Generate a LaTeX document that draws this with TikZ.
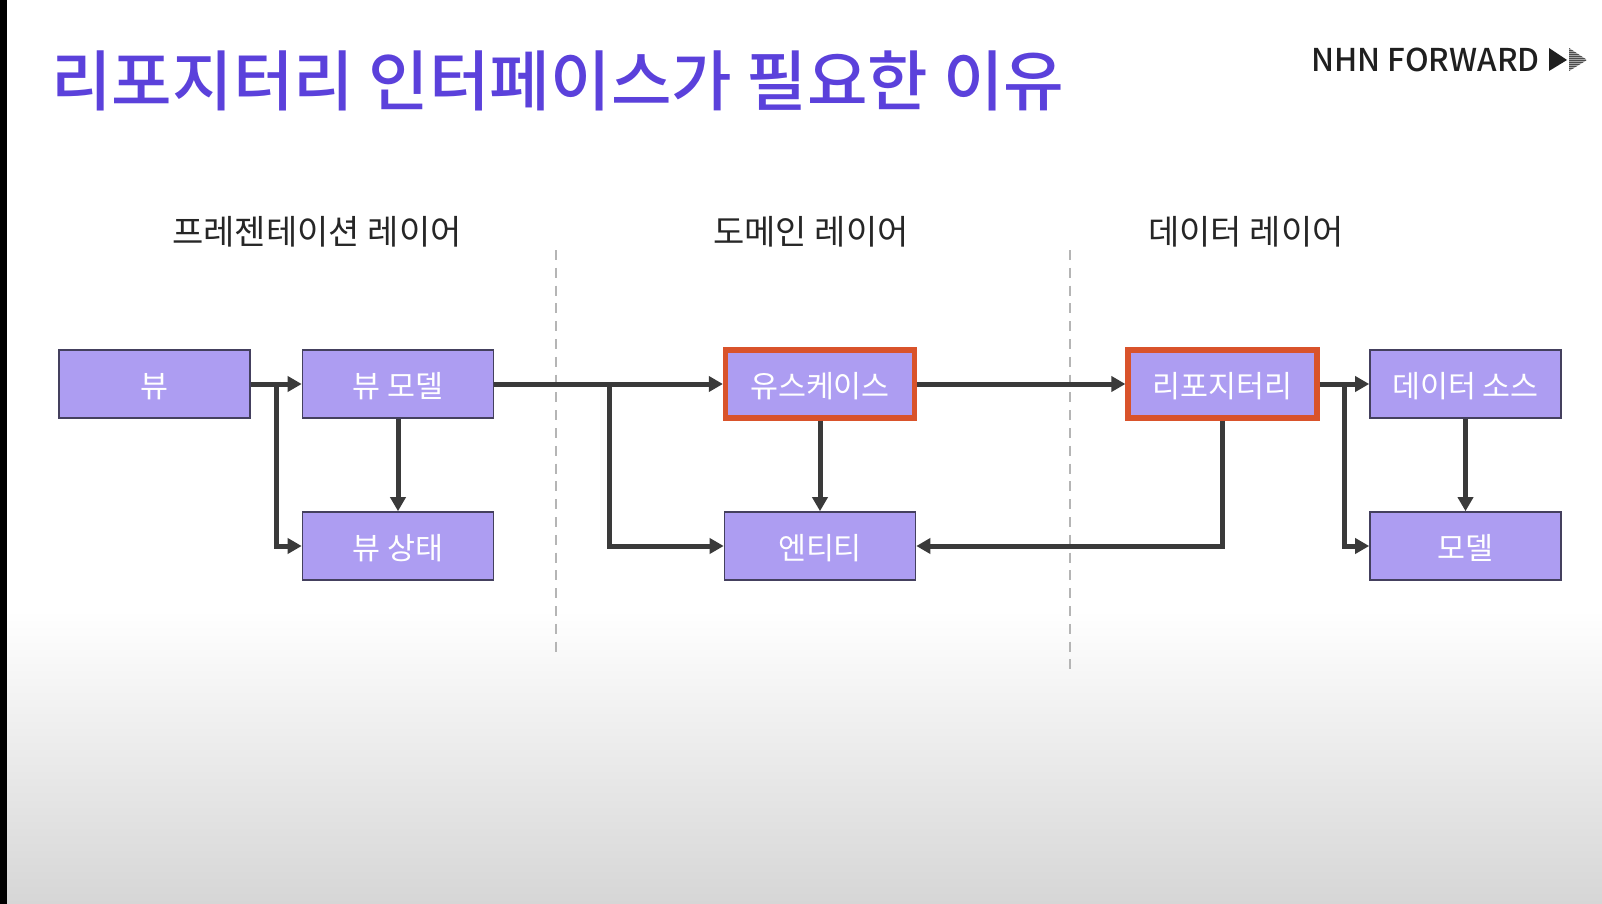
\documentclass[tikz,border=0pt]{standalone}
\usepackage{fontspec}
\usetikzlibrary{arrows.meta,positioning,calc}
\newfontfamily\krfont{Noto Sans CJK KR}
\newfontfamily\krmed{Noto Sans CJK KR Medium}
\definecolor{boxfill}{HTML}{AD9DF2}
\definecolor{boxline}{HTML}{44405E}
\definecolor{titlecol}{HTML}{5B41DB}
\definecolor{hilite}{HTML}{D9532B}
\definecolor{conn}{HTML}{3A3A3A}
\definecolor{dashcol}{HTML}{B5B5B5}
\definecolor{fade}{HTML}{D6D6D6}
\tikzset{
  x=0.5pt,y=-0.5pt,
  pbox/.style={draw=boxline,line width=0.8pt,fill=boxfill,text=white,minimum width=95.5pt,minimum height=34pt,inner sep=0pt,text height=15pt,text depth=1.6pt,font=\krfont\fontsize{15.2}{15.2}\selectfont},
  hbox/.style={pbox,draw=hilite,line width=2.6pt,minimum width=94.5pt,minimum height=34pt},
  conline/.style={draw=conn,line width=2.5pt},
  conarrow/.style={conline,-{Triangle[length=7pt,width=7.5pt,sharp]}},
  sep/.style={draw=dashcol,line width=1.1pt,dash pattern=on 5pt off 3.9pt},
  head/.style={font=\krfont\fontsize{17}{17}\selectfont,text=black!85,inner sep=0pt},
}
\begin{document}
\begin{tikzpicture}
\useasboundingbox (0,0) rectangle (1602,904);
\fill[white] (0,0) rectangle (1602,904);
\shade[top color=white,bottom color=fade,shading angle=0] (0,610) rectangle (1602,904);
\fill[black] (0,0) rectangle (7,904);

\node[anchor=west,inner sep=0pt,text=titlecol,font=\krmed\fontsize{32.9}{32.9}\selectfont] (title) at (51,81) {리포지터리 인터페이스가 필요한 이유};
\node[anchor=west,inner sep=0pt,text=black!88,font=\krmed\fontsize{15.7}{15.7}\selectfont] (brand) at (1311,60) {NHN FORWARD};
\fill[black!88] (1549,48) -- (1567,60) -- (1549,71) -- cycle;
\begin{scope}
\clip (1569,48) -- (1587,60) -- (1569,71) -- cycle;
\fill[black!35] (1569,48) rectangle (1587,71);
\foreach \yy in {48,50,...,72} \draw[black!70,line width=0.45pt] (1569,\yy) -- (1587,\yy);
\end{scope}

\node[head] (h1) at (317,232) {프레젠테이션 레이어};
\node[head] (h2) at (811,232) {도메인 레이어};
\node[head] (h3) at (1246,232) {데이터 레이어};

\coordinate (d1a) at (556,250); \coordinate (d1b) at (556,651.6);
\coordinate (d2a) at (1070,250); \coordinate (d2b) at (1070,669.4);
\draw[sep] (d1a) -- (d1b);
\draw[sep] (d2a) -- (d2b);

\node[pbox] (view) at (154.5,384) {뷰};
\node[pbox] (vm) at (398,384) {뷰 모델};
\node[pbox] (vs) at (398,546) {뷰 상태};
\node[hbox] (uc) at (820,384) {유스케이스};
\node[pbox] (ent) at (820,546) {엔티티};
\node[hbox] (repo) at (1222.5,384) {리포지터리};
\node[pbox] (ds) at (1465.5,384) {데이터 소스};
\node[pbox] (model) at (1465.5,546) {모델};

\coordinate (j1) at ($(view.east)!0.5!(vm.west)$);
\coordinate (j2) at (609,384);
\coordinate (j3) at (1344,384);

\draw[conarrow] (view) -- (vm);
\draw[conarrow] (j1) |- (vs.west);
\draw[conarrow] (vm) -- (vs);
\draw[conarrow] (vm.east) -- (uc.west);
\draw[conarrow] (j2) |- (ent.west);
\draw[conarrow] (uc) -- (ent);
\draw[conarrow] (uc) -- (repo);
\draw[conarrow] (repo.south) |- (ent.east);
\draw[conarrow] (repo) -- (ds);
\draw[conarrow] (j3) |- (model.west);
\draw[conarrow] (ds) -- (model);
\end{tikzpicture}
\end{document}
